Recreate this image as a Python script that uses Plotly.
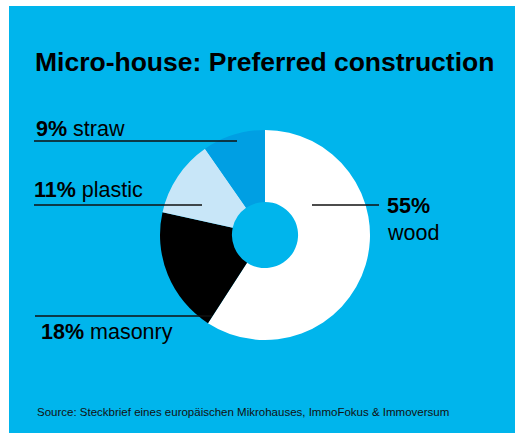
import plotly.graph_objects as go

W, H = 515, 433

# Data
materials = ["wood", "masonry", "plastic", "straw"]
shares = [55, 18, 11, 9]
slice_colors = ["#FFFFFF", "#000000", "#C8E6F8", "#009FE3"]

title_text = "Micro-house: Preferred construction"
source_text = "Source: Steckbrief eines europäischen Mikrohauses, ImmoFokus & Immoversum"

BG = "#00B5EC"
FONT = "Liberation Sans, Arial, Helvetica, sans-serif"


def px(x):
    return x / W


def py(y):
    return 1 - y / H


fig = go.Figure()
fig.add_trace(go.Pie(
    labels=materials,
    values=shares,
    marker=dict(colors=slice_colors, line=dict(width=0)),
    hole=0.315,
    sort=False,
    direction="clockwise",
    rotation=0,
    textinfo="none",
    hoverinfo="label+percent",
    showlegend=False,
    domain=dict(x=[px(160), px(370)], y=[py(340), py(130)]),
))

shapes = [
    dict(type="rect", xref="paper", yref="paper", x0=0, x1=px(9), y0=0, y1=1,
         fillcolor="#FFFFFF", line=dict(width=0), layer="below"),
    dict(type="rect", xref="paper", yref="paper", x0=0, x1=1, y0=py(6), y1=1,
         fillcolor="#FFFFFF", line=dict(width=0), layer="below"),
]
lines = [(34, 237, 141), (34, 202, 205), (35, 212, 316), (312, 379, 205)]
for x0, x1, y in lines:
    shapes.append(dict(type="line", xref="paper", yref="paper",
                       x0=px(x0), x1=px(x1), y0=py(y), y1=py(y),
                       line=dict(color="#111111", width=1.5), layer="above"))

LS = 21.5
annotations = [
    dict(text="<b>%s</b>" % title_text, x=px(33), y=py(62), xanchor="left", yanchor="middle",
         font=dict(size=26.5, color="#000000", family=FONT)),
    dict(text="<b>%d%%</b> %s" % (shares[3], materials[3]), x=px(34), y=py(128.5),
         xanchor="left", yanchor="middle", font=dict(size=LS, color="#000000", family=FONT)),
    dict(text="<b>%d%%</b> %s" % (shares[2], materials[2]), x=px(32), y=py(189.5),
         xanchor="left", yanchor="middle", font=dict(size=LS, color="#000000", family=FONT)),
    dict(text="<b>%d%%</b> %s" % (shares[1], materials[1]), x=px(39), y=py(331.5),
         xanchor="left", yanchor="middle", font=dict(size=LS, color="#000000", family=FONT)),
    dict(text="<b>%d%%</b>" % shares[0], x=px(385), y=py(205.5),
         xanchor="left", yanchor="middle", font=dict(size=LS, color="#000000", family=FONT)),
    dict(text=materials[0], x=px(385), y=py(232.5),
         xanchor="left", yanchor="middle", font=dict(size=LS, color="#000000", family=FONT)),
    dict(text=source_text, x=px(35), y=py(412), xanchor="left", yanchor="middle",
         font=dict(size=11.5, color="#111111", family=FONT)),
]
for a in annotations:
    a.update(xref="paper", yref="paper", showarrow=False)

fig.update_layout(
    width=W, height=H,
    margin=dict(l=0, r=0, t=0, b=0),
    paper_bgcolor=BG,
    plot_bgcolor="rgba(0,0,0,0)",
    shapes=shapes,
    annotations=annotations,
    font=dict(family=FONT),
)

fig.write_html(
    "out.html",
    config={"displayModeBar": False},
    post_script="document.body.style.margin='0px';document.body.style.overflow='hidden';",
)
